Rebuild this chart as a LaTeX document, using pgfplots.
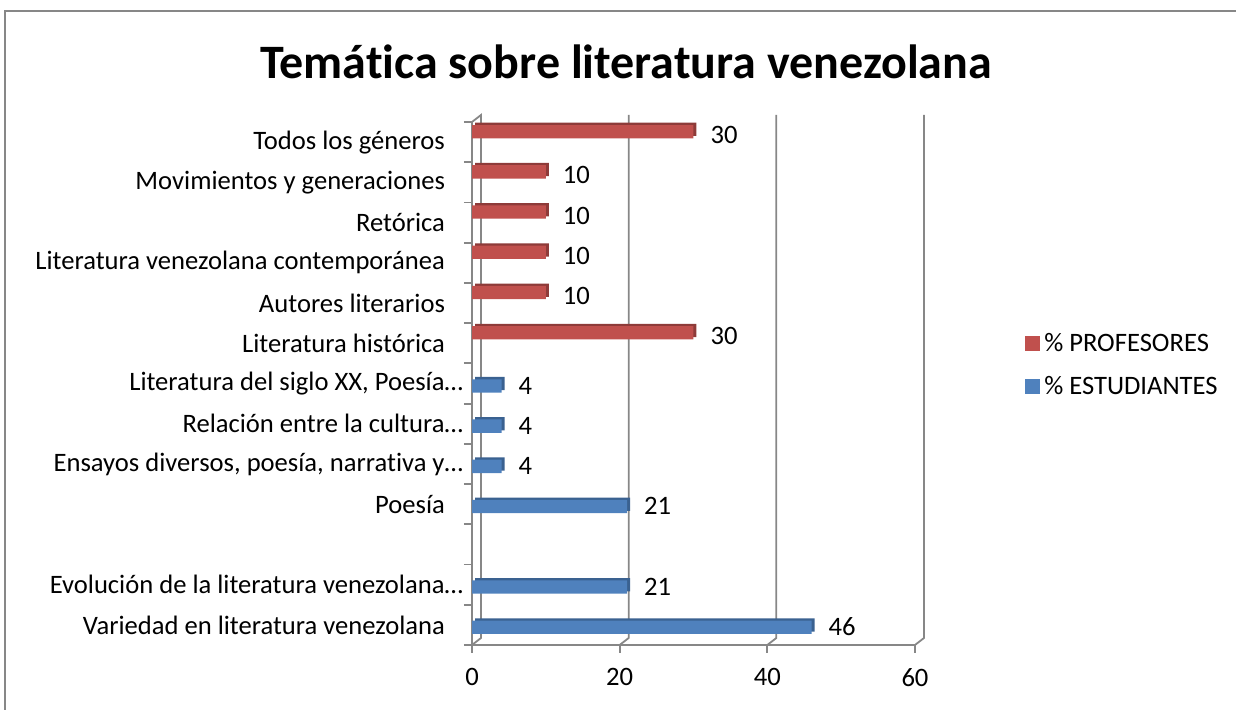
\documentclass[border=0pt]{standalone}
\usepackage{fontspec}
\setmainfont{Carlito}[Ligatures=NoCommon]
\usepackage{pgfplots}
\pgfplotsset{compat=1.18}
\definecolor{profred}{HTML}{C0504D}
\definecolor{profdark}{HTML}{8E3B39}
\definecolor{estblue}{HTML}{4F81BD}
\definecolor{estdark}{HTML}{3A6190}
\definecolor{axgray}{HTML}{878787}
\newcommand{\lblfont}{\fontsize{13.3}{16}\selectfont}
\newcommand{\pad}{\rule{9pt}{0pt}}

\begin{document}
\begin{tikzpicture}
\useasboundingbox (0,0) rectangle (618pt,355pt);
% chart frame (cut by the picture edge on the right and bottom)
\draw[axgray, line width=1pt] (2.5pt,-2pt) -- (2.5pt,349.5pt) -- (622pt,349.5pt);
\node[font=\bfseries\fontsize{24}{28}\selectfont] at (313pt,324pt) {Temática sobre literatura venezolana};

\begin{axis}[
    at={(236pt,32.5pt)}, anchor=south west,
    scale only axis, width=221.5pt, height=261.5pt,
    xmin=0, xmax=60, ymin=0.5, ymax=13.5,
    clip=false,
    axis x line*=bottom, axis y line*=left,
    axis line style={axgray, line width=0.9pt},
    xtick={0,20,40,60},
    ytick={1,...,13},
    yticklabels={
        Variedad en literatura venezolana\pad,
        Evolución de la literatura venezolana…,
        {},
        Poesía\pad,
        {Ensayos diversos, poesía, narrativa y…},
        Relación entre la cultura…,
        {Literatura del siglo XX, Poesía…},
        Literatura histórica\pad,
        Autores literarios\pad,
        Literatura venezolana contemporánea\pad,
        Retórica\pad,
        Movimientos y generaciones\pad,
        Todos los géneros\pad},
    minor ytick={0.5,1.5,...,13.5},
    tick align=outside,
    major tick length=4pt, minor tick length=4pt,
    every major x tick/.append style={axgray, line width=0.9pt},
    every major y tick/.append style={draw=none},
    every minor y tick/.append style={axgray, line width=0.9pt},
    tick label style={font=\lblfont},
    xticklabel style={yshift=-4pt},
    yticklabel style={xshift=3pt},
    /pgf/number format/assume math mode=true,
    reverse legend,
    legend style={draw=none, at={(1.248,0.535)}, anchor=west,
        font=\lblfont, row sep=7pt, inner sep=0pt},
    legend cell align=left,
    legend image code/.code={\fill[#1, draw=none] (0pt,-3.5pt) rectangle (7.5pt,4pt);},
]
% back wall lines of the 3-D frame
\draw[axgray, line width=0.9pt] (axis cs:0,13.5) -- ++(4.5pt,3.5pt) -- ([shift={(4.5pt,3.5pt)}]axis cs:0,0.5) -- (axis cs:0,0.5);
\draw[axgray, line width=0.9pt] (axis cs:20,0.5) -- ++(4.5pt,3.5pt) -- ([shift={(4.5pt,3.5pt)}]axis cs:20,13.5);
\draw[axgray, line width=0.9pt] (axis cs:40,0.5) -- ++(4.5pt,3.5pt) -- ([shift={(4.5pt,3.5pt)}]axis cs:40,13.5);
\draw[axgray, line width=0.9pt] (axis cs:60,0.5) -- ++(4.5pt,3.5pt) -- ([shift={(4.5pt,3.5pt)}]axis cs:60,13.5);

% depth faces
\addplot[xbar, bar width=0.33, bar shift=-0.06, fill=estdark, draw=none, forget plot, xshift=1.5pt, yshift=1.2pt]
    coordinates {(46,1) (21,2) (21,4) (4,5) (4,6) (4,7)};
\addplot[xbar, bar width=0.33, bar shift=0.26, fill=profdark, draw=none, forget plot, xshift=1.5pt, yshift=1.2pt]
    coordinates {(30,8) (10,9) (10,10) (10,11) (10,12) (30,13)};

% % ESTUDIANTES
\addplot[xbar, bar width=0.33, bar shift=-0.06, fill=estblue, draw=none,
    nodes near coords, nodes near coords style={anchor=west, xshift=5pt, yshift=-1pt, text=black, font=\lblfont}]
    coordinates {(46,1) (21,2) (21,4) (4,5) (4,6) (4,7)};
% % PROFESORES
\addplot[xbar, bar width=0.33, bar shift=0.26, fill=profred, draw=none,
    nodes near coords, nodes near coords style={anchor=west, xshift=5pt, yshift=3.5pt, text=black, font=\lblfont}]
    coordinates {(30,8) (10,9) (10,10) (10,11) (10,12) (30,13)};
\legend{\% ESTUDIANTES, \% PROFESORES}
\end{axis}
\end{tikzpicture}
\end{document}
